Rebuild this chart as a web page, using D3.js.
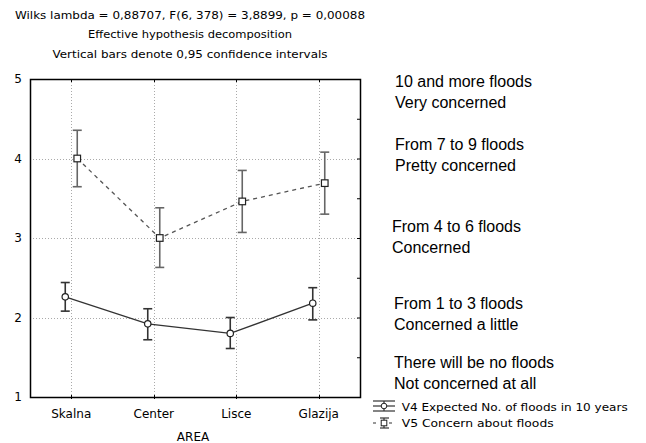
<!DOCTYPE html>
<html><head><meta charset="utf-8">
<script src="https://cdn.jsdelivr.net/npm/d3@7"></script>
<style>body{margin:0;background:#fff}svg{display:block}</style>
</head><body>
<script>
const categories = ["Skalna", "Center", "Lisce", "Glazija"];
const v4Mean = [2.26, 1.92, 1.80, 2.18];
const v4Low = [2.08, 1.72, 1.61, 1.97];
const v4High = [2.44, 2.11, 2.00, 2.375];
const v5Mean = [4.00, 3.00, 3.46, 3.69];
const v5Low = [3.645, 2.63, 3.07, 3.30];
const v5High = [4.355, 3.38, 3.85, 4.08];
const yTicks = [1, 2, 3, 4, 5];
const yMinorTicks = [1.5, 2.5, 3.5, 4.5];
const titleLines = [
  "Wilks lambda = 0,88707, F(6, 378) = 3,8899, p = 0,00088",
  "Effective hypothesis decomposition",
  "Vertical bars denote 0,95 confidence intervals"
];
const xAxisTitle = "AREA";
const levelLabels = [
  ["10 and more floods", "Very concerned"],
  ["From 7 to 9 floods", "Pretty concerned"],
  ["From 4 to 6 floods", "Concerned"],
  ["From 1 to 3 floods", "Concerned a little"],
  ["There will be no floods", "Not concerned at all"]
];
const legendLabels = ["V4 Expected No. of floods in 10 years", "V5 Concern about floods"];

const W = 646, H = 443;
const L = 30, R = 360, T = 79, B = 397;
const svg = d3.select("body").append("svg").attr("width", W).attr("height", H);

const x = d3.scaleBand().domain(categories).range([L, R]);
const cx = c => x(c) + x.bandwidth() / 2;
const y = d3.scaleLinear().domain([1, 5]).range([B, T]);

// titles
const tFont = "DejaVu Sans, Verdana, sans-serif";
const titleY = [19, 38, 58];
const titleW = [350, 204, 275];
titleLines.forEach((t, i) => {
  svg.append("text").attr("x", 190).attr("y", titleY[i]).attr("text-anchor", "middle")
    .attr("font-family", tFont).attr("font-size", 10.5).attr("fill", "#000")
    .attr("textLength", titleW[i]).attr("lengthAdjust", "spacingAndGlyphs").text(t);
});

// grid
const grid = svg.append("g").attr("stroke", "#aaa").attr("stroke-width", 1).attr("stroke-dasharray", "1,2");
grid.selectAll(".gy").data(yTicks.slice(1, -1)).join("line")
  .attr("x1", L).attr("x2", R).attr("y1", d => Math.round(y(d)) + 0.5).attr("y2", d => Math.round(y(d)) + 0.5);
grid.selectAll(".gx").data(categories).join("line")
  .attr("y1", T).attr("y2", B).attr("x1", d => Math.round(cx(d)) + 0.5).attr("x2", d => Math.round(cx(d)) + 0.5);

// frame
svg.append("rect").attr("x", L + 0.5).attr("y", T + 0.5).attr("width", R - L).attr("height", B - T)
  .attr("fill", "none").attr("stroke", "#000").attr("stroke-width", 1.5);

// axes
const yAxis = d3.axisLeft(y).tickValues(yTicks).tickSize(0).tickPadding(8).tickFormat(d3.format("d"));
const gy = svg.append("g").attr("transform", `translate(${L},0)`).call(yAxis);
gy.select(".domain").remove();
gy.selectAll("text").attr("font-family", tFont).attr("font-size", 12).attr("fill", "#000");

const yAxisR = d3.axisLeft(y).tickValues(yTicks.concat(yMinorTicks)).tickSize(3).tickFormat("");
const gyr = svg.append("g").attr("transform", `translate(${R},0)`).call(yAxisR);
gyr.select(".domain").remove();
gyr.selectAll("line").attr("stroke", "#000").attr("x2", -3);

const xAxis = d3.axisBottom(x).tickSize(0).tickPadding(12);
const gx = svg.append("g").attr("transform", `translate(0,${B})`).call(xAxis);
gx.select(".domain").remove();
gx.selectAll("text").attr("font-family", tFont).attr("font-size", 12).attr("fill", "#000");
svg.selectAll(".bt").data(categories).join("line")
  .attr("x1", d => Math.round(cx(d)) + 0.5).attr("x2", d => Math.round(cx(d)) + 0.5)
  .attr("y1", B - 2).attr("y2", B + 2).attr("stroke", "#000");
svg.selectAll(".tt").data(categories).join("line")
  .attr("x1", d => Math.round(cx(d)) + 0.5).attr("x2", d => Math.round(cx(d)) + 0.5)
  .attr("y1", T).attr("y2", T + 3).attr("stroke", "#000");

svg.append("text").attr("x", 193).attr("y", 441).attr("text-anchor", "middle")
  .attr("font-family", tFont).attr("font-size", 12).text(xAxisTitle);

// series
const series = [
  {mean: v4Mean, low: v4Low, high: v4High, off: -6, color: "#333", barColor: "#333", dash: null, marker: "circle"},
  {mean: v5Mean, low: v5Low, high: v5High, off: 6, color: "#555", barColor: "#666", dash: "4,4", marker: "square"}
];
series.forEach(s => {
  const pts = categories.map((c, i) => ({x: cx(c) + s.off, m: s.mean[i], lo: s.low[i], hi: s.high[i]}));
  const g = svg.append("g");
  g.append("path").datum(pts)
    .attr("d", d3.line().x(d => d.x).y(d => y(d.m)))
    .attr("fill", "none").attr("stroke", s.color).attr("stroke-width", 1.3)
    .attr("stroke-dasharray", s.dash);
  pts.forEach(p => {
    g.append("line").attr("x1", p.x).attr("x2", p.x).attr("y1", y(p.hi)).attr("y2", y(p.lo))
      .attr("stroke", s.barColor).attr("stroke-width", 1.6);
    [p.hi, p.lo].forEach(v => g.append("line").attr("x1", p.x - 4.5).attr("x2", p.x + 4.5)
      .attr("y1", y(v)).attr("y2", y(v)).attr("stroke", s.barColor).attr("stroke-width", 1.6));
    if (s.marker === "circle") {
      g.append("circle").attr("cx", p.x).attr("cy", y(p.m)).attr("r", 3.2)
        .attr("fill", "#fff").attr("stroke", "#222").attr("stroke-width", 1.2);
    } else {
      g.append("rect").attr("x", p.x - 3.3).attr("y", y(p.m) - 3.3).attr("width", 6.6).attr("height", 6.6)
        .attr("fill", "#fff").attr("stroke", "#222").attr("stroke-width", 1.2);
    }
  });
});

// level labels on right
const aFont = "Liberation Sans, Arial, sans-serif";
const levelPos = [[395, 87], [395, 150], [392, 232], [394, 309], [394, 368]];
levelLabels.forEach((pair, i) => {
  pair.forEach((t, j) => {
    svg.append("text").attr("x", levelPos[i][0]).attr("y", levelPos[i][1] + j * 20.5)
      .attr("font-family", aFont).attr("font-size", 16).attr("fill", "#000").text(t);
  });
});

// legend
const legY = [410.5, 427];
const legCY = [406, 423];
const legW = [226, 152];
legendLabels.forEach((t, i) => {
  const g = svg.append("g");
  const cy = legCY[i];
  const mx = 384;
  g.append("line").attr("x1", mx).attr("x2", mx).attr("y1", cy - 5).attr("y2", cy + 5).attr("stroke", "#333").attr("stroke-width", 1.2);
  g.append("line").attr("x1", 373).attr("x2", 395).attr("y1", cy).attr("y2", cy)
    .attr("stroke", "#333").attr("stroke-width", 1.2).attr("stroke-dasharray", i === 1 ? "3,5" : null);
  [cy - 5, cy + 5].forEach(v => g.append("line").attr("x1", i === 0 ? 373 : 380).attr("x2", i === 0 ? 395 : 389)
    .attr("y1", v).attr("y2", v).attr("stroke", "#333").attr("stroke-width", 1.2));
  if (i === 0) g.append("circle").attr("cx", mx).attr("cy", cy).attr("r", 2.8).attr("fill", "#fff").attr("stroke", "#222");
  else g.append("rect").attr("x", mx - 2.8).attr("y", cy - 2.8).attr("width", 5.6).attr("height", 5.6).attr("fill", "#fff").attr("stroke", "#222");
  g.append("text").attr("x", 401.7).attr("y", legY[i]).attr("font-family", tFont).attr("font-size", 10.5)
    .attr("textLength", legW[i]).attr("lengthAdjust", "spacingAndGlyphs").text(t);
});
</script>
</body></html>
